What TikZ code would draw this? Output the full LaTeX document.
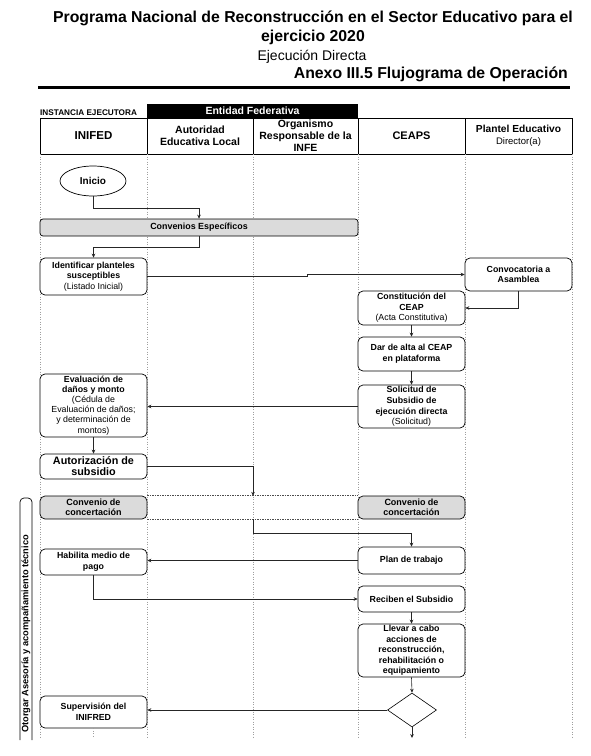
\documentclass[tikz,border=0pt]{standalone}
\usepackage{fontspec}
\setmainfont{Liberation Sans}
\usetikzlibrary{shapes.geometric,arrows.meta}
\newcommand\mynodefont{\fontsize{8.8}{10.6}\selectfont\bfseries}
\newcommand\myheadfont{\fontsize{10.5}{12}\selectfont\bfseries}
\begin{document}
\begin{tikzpicture}[x=1pt,y=-1pt,
  lane/.style={draw=gray!75, dotted, line width=0.5pt},
  proc/.style={draw=black, line width=0.7pt, rounded corners=5pt, fill=white,
    align=center, inner sep=1pt, font=\mynodefont, minimum width=107pt},
  gproc/.style={proc, fill=gray!28},
  arr/.style={draw=black!85, line width=0.6pt, -{Stealth[length=4pt,width=3.6pt]}},
  band/.style={draw=black!70, dash pattern=on 1.5pt off 1pt, line width=0.5pt},
  head/.style={align=center, font=\myheadfont, inner sep=0pt},
  titlef/.style={font=\fontsize{15.8}{18}\selectfont\bfseries, inner sep=0pt}
]
\useasboundingbox (0,0) rectangle (590,756);

% title
\node[titlef] (t1) at (313,18) {Programa Nacional de Reconstrucción en el Sector Educativo para el};
\node[titlef] (t2) at (313,37) {ejercicio 2020};
\node[font=\fontsize{14}{16}\selectfont, inner sep=0pt] (t3) at (312,57) {Ejecución Directa};
\node[titlef, anchor=east] (t4) at (568,74) {Anexo III.5 Flujograma de Operación};
\draw[line width=3pt] (38,87) -- (570,87);

% header
\node[anchor=west, font=\fontsize{8.2}{9}\selectfont\bfseries, inner sep=0pt] (inst) at (40,113) {INSTANCIA EJECUTORA};
\fill[black] (147,104) rectangle (358,118);
\node[text=white, font=\fontsize{10.5}{11}\selectfont\bfseries, inner sep=0pt] (ef) at (252.5,111) {Entidad Federativa};
\draw[line width=0.8pt] (40,118) rectangle (572,154);
\foreach \x in {147,253,358,465} \draw[line width=0.8pt] (\x,118) -- (\x,154);
\node[head, font=\fontsize{11.5}{12}\selectfont\bfseries] (h1) at (93.5,136) {INIFED};
\node[head] (h2) at (200,136) {Autoridad\\Educativa Local};
\node[head] (h3) at (305.5,136) {Organismo\\Responsable de la\\INFE};
\node[head, font=\fontsize{11}{12}\selectfont\bfseries] (h4) at (411.5,136) {CEAPS};
\node[head, font=\fontsize{10.2}{12}\selectfont\bfseries] (h5) at (518.5,136) {Plantel Educativo\\{\mdseries\fontsize{9.5}{12}\selectfont Director(a)}};

% lanes
\foreach \x in {40,147,253,358,465,572} \draw[lane] (\x,154) -- (\x,738);

% side bar
\draw[line width=0.7pt, rounded corners=4pt] (20,740) -- (20,498) -- (32,498) -- (32,740);
\node[rotate=90, font=\fontsize{9.3}{11}\selectfont\bfseries, inner sep=0pt] (side) at (26,634) {Otorgar Asesoría y acompañamiento técnico};

% nodes
\node[draw, ellipse, line width=0.7pt, minimum width=66pt, minimum height=30pt, inner sep=0pt, fill=white, font=\fontsize{10}{11}\selectfont\bfseries] (inicio) at (93,181) {Inicio};
\node[gproc, minimum width=318pt, minimum height=17pt, rounded corners=3pt, font=\fontsize{8.9}{10}\selectfont\bfseries] (conv) at (199,227.5) {Convenios Específicos};
\node[proc, minimum height=37pt] (ident) at (93.5,276.5) {Identificar planteles\\susceptibles\\{\mdseries (Listado Inicial)}};
\node[proc, minimum height=33pt] (convoc) at (518.5,274.5) {Convocatoria a\\Asamblea};
\node[proc, minimum height=34pt] (const) at (411.5,308) {Constitución del\\CEAP\\{\mdseries (Acta Constitutiva)}};
\node[proc, minimum height=34pt] (alta) at (411.5,354) {Dar de alta al CEAP\\en plataforma};
\node[proc, minimum height=43pt] (solic) at (411.5,406.5) {Solicitud de\\Subsidio de\\ejecución directa\\{\mdseries (Solicitud)}};
\node[proc, minimum height=63pt, font=\fontsize{8.8}{10.1}\selectfont\bfseries] (eval) at (93.5,405.5) {Evaluación de\\daños y monto\\{\mdseries (Cédula de}\\{\mdseries Evaluación de daños;}\\{\mdseries y determinación de}\\{\mdseries montos)}};
\node[proc, minimum height=25pt, font=\fontsize{10.8}{11}\selectfont\bfseries] (autor) at (93.5,466.5) {Autorización de\\subsidio};
\node[gproc, minimum height=23pt, font=\fontsize{9}{10.5}\selectfont\bfseries] (convL) at (93.5,507.5) {Convenio de\\concertación};
\node[gproc, minimum height=23pt, font=\fontsize{9}{10.5}\selectfont\bfseries] (convR) at (411.5,507.5) {Convenio de\\concertación};
\node[proc, minimum height=27pt] (plan) at (411.5,560.5) {Plan de trabajo};
\node[proc, minimum height=26pt] (habil) at (93.5,562) {Habilita medio de\\pago};
\node[proc, minimum height=26pt] (recib) at (411.5,599) {Reciben el Subsidio};
\node[proc, minimum height=53pt] (llevar) at (411.5,650.5) {Llevar a cabo\\acciones de\\reconstrucción,\\rehabilitación o\\equipamiento};
\node[draw, diamond, shape aspect=1.44, minimum width=49pt, minimum height=34pt, inner sep=0pt, line width=0.6pt, fill=white] (dec) at (412,710) {};
\node[proc, minimum height=32pt] (superv) at (93.5,712) {Supervisión del\\INIFRED};

% band between convenio boxes
\draw[band] (convL.north east) -- (convR.north west);
\draw[band] (convL.south east) -- (convR.south west);
\coordinate (bandT) at (253,495.8);
\coordinate (bandB) at (253,519.2);
\coordinate (decend) at (412,738);
\coordinate (svend) at (93.5,738);

% connectors
\draw[arr] (inicio.south) -- ++(0,12) -| (conv.north);
\draw[arr] (conv.south) -- ++(0,11) -| (ident.north);
\draw[arr] (ident.east) -- ++(160,0) |- (convoc.west);
\draw[arr] (convoc.south) |- (const.east);
\draw[arr] (const.south) -- (alta.north);
\draw[arr] (alta.south) -- (solic.north);
\draw[arr] (solic.west) -- (solic.west -| eval.east);
\draw[arr] (eval.south) -- (autor.north);
\draw[arr] (autor.east) -| (bandT);
\draw[arr] (bandB) -- ++(0,14) -| (plan.north);
\draw[arr] (plan.west) -- (plan.west -| habil.east);
\draw[arr] (habil.south) |- (recib.west);
\draw[arr] (recib.south) -- (llevar.north);
\draw[arr] (llevar.south) -- (dec.north);
\draw[arr] (dec.south) -- (decend);
\draw[arr] (dec.west) -- (dec.west -| superv.east);
\draw[lane] (superv.south) -- (svend);
\end{tikzpicture}
\end{document}
